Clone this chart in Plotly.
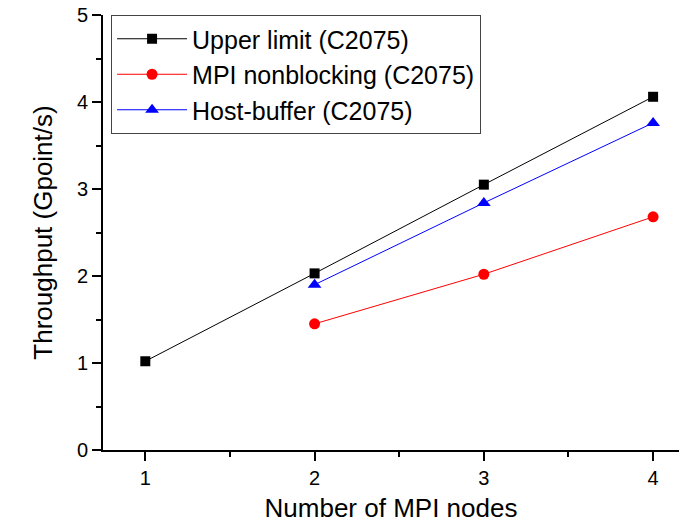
import plotly.graph_objects as go

nodes_upper = [1, 2, 3, 4]
upper = [1.02, 2.03, 3.05, 4.06]
nodes_mpi = [2, 3, 4]
mpi = [1.45, 2.02, 2.68]
nodes_host = [2, 3, 4]
host = [1.90, 2.84, 3.76]

FONT = "Liberation Sans, Arial, sans-serif"

fig = go.Figure()
fig.add_trace(go.Scatter(x=nodes_upper, y=upper, mode="lines+markers", name="Upper limit (C2075)",
                         line=dict(color="black", width=1), marker=dict(symbol="square", size=10, color="black")))
fig.add_trace(go.Scatter(x=nodes_mpi, y=mpi, mode="lines+markers", name="MPI nonblocking (C2075)",
                         line=dict(color="red", width=1), marker=dict(symbol="circle", size=11, color="red")))
fig.add_trace(go.Scatter(x=nodes_host, y=host, mode="lines+markers", name="Host-buffer (C2075)",
                         line=dict(color="blue", width=1), marker=dict(symbol="triangle-up", size=12, color="blue")))

fig.update_layout(
    width=679, height=523,
    margin=dict(l=103, r=0, t=15, b=73),
    plot_bgcolor="white", paper_bgcolor="white",
    font=dict(family=FONT, color="black", size=18),
    showlegend=True,
    legend=dict(x=0.014, y=1.0, xanchor="left", yanchor="top",
                bordercolor="#444", borderwidth=1, bgcolor="white",
                font=dict(size=25, family=FONT, color="black"), itemwidth=70),
    xaxis=dict(range=[0.75, 4.153], tickmode="array", tickvals=[1, 2, 3, 4], ticktext=["1", "2", "3", "4"],
               ticks="outside", ticklen=9, tickwidth=1.5,
               tickcolor="black", showline=True, linecolor="black", linewidth=2, showgrid=False, zeroline=False,
               tickfont=dict(size=20, family=FONT, color="black"),
               title=dict(text="Number of MPI nodes", font=dict(size=26, family=FONT, color="black"), standoff=12),
               minor=dict(tickvals=[1.5, 2.5, 3.5], ticks="outside", ticklen=5, tickwidth=1.5, tickcolor="black")),
    yaxis=dict(range=[0, 5], tickmode="array", tickvals=[0, 1, 2, 3, 4, 5], ticktext=["0", "1", "2", "3", "4", "5"],
               ticks="outside", ticklen=9, tickwidth=1.5,
               tickcolor="black", showline=True, linecolor="black", linewidth=2, showgrid=False, zeroline=False,
               tickfont=dict(size=20, family=FONT, color="black"),
               title=dict(text="Throughput (Gpoint/s)", font=dict(size=26, family=FONT, color="black"), standoff=17),
               minor=dict(tickvals=[0.5, 1.5, 2.5, 3.5, 4.5], ticks="outside", ticklen=5, tickwidth=1.5, tickcolor="black")),
)

fig.write_html("out.html")
